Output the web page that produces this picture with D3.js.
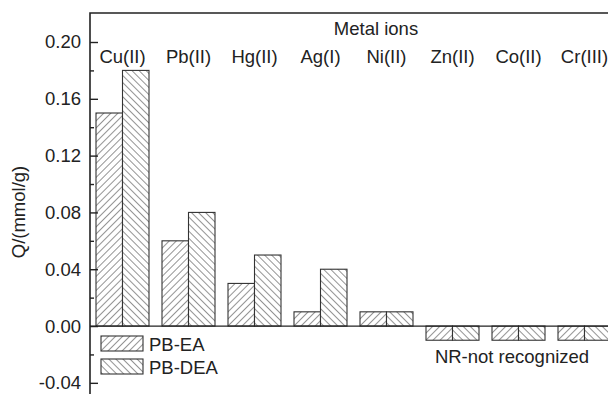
<!DOCTYPE html>
<html>
<head>
<meta charset="utf-8">
<script src="https://cdn.jsdelivr.net/npm/d3@7"></script>
<style>
  html, body { margin: 0; padding: 0; background: #fff; }
  svg { display: block; font-family: "Liberation Sans", Arial, sans-serif; }
</style>
</head>
<body>
<svg id="chart" width="608" height="394"></svg>
<script>
// Adsorption capacity per metal ion for the two sorbents
const categories = ["Cu(II)", "Pb(II)", "Hg(II)", "Ag(I)", "Ni(II)", "Zn(II)", "Co(II)", "Cr(III)"];
const series = ["PB-EA", "PB-DEA"];
const pbEA  = [0.15, 0.06, 0.03, 0.01, 0.01, -0.01, -0.01, -0.01];
const pbDEA = [0.18, 0.08, 0.05, 0.04, 0.01, -0.01, -0.01, -0.01];
const yTicks = [-0.04, 0.00, 0.04, 0.08, 0.12, 0.16, 0.20];
const yMinorTicks = [-0.02, 0.02, 0.06, 0.10, 0.14, 0.18];
const yTitle = "Q/(mmol/g)";
const xTitle = "Metal ions";
const note = "NR-not recognized";

const W = 608, H = 394;
const axisX = 90, frameTop = 13;
const ink = "#222";

const svg = d3.select("#chart");

// hatch patterns: forward slashes for PB-EA, back slashes for PB-DEA
const defs = svg.append("defs");
function hatch(id, dir) {
  const p = defs.append("pattern")
    .attr("id", id).attr("patternUnits", "userSpaceOnUse")
    .attr("width", 5).attr("height", 5)
    .attr("patternTransform", `rotate(${dir * 45})`);
  p.append("rect").attr("width", 5).attr("height", 5).attr("fill", "#fff");
  p.append("line").attr("x1", 0).attr("y1", 0).attr("x2", 0).attr("y2", 5)
    .attr("stroke", "#3a3a3a").attr("stroke-width", 1.1);
}
hatch("hatchEA", 1);
hatch("hatchDEA", -1);
const fills = { "PB-EA": "url(#hatchEA)", "PB-DEA": "url(#hatchDEA)" };

const y = d3.scaleLinear().domain([-0.048, 0.22]).range([394.2, 13.6]);

const x = d3.scaleBand().domain(categories).range([96, 611])
  .paddingInner(13 / 66).paddingOuter(0);
const xs = d3.scaleBand().domain(series).range([0, x.bandwidth()]).padding(0);

const rows = categories.map((c, i) => ({ cat: c, "PB-EA": pbEA[i], "PB-DEA": pbDEA[i] }));

// bars
const groups = svg.append("g").selectAll("g").data(rows).join("g")
  .attr("transform", d => `translate(${x(d.cat)},0)`);
groups.selectAll("rect")
  .data(d => series.map(s => ({ s, v: d[s] })))
  .join("rect")
  .attr("x", d => xs(d.s))
  .attr("width", xs.bandwidth())
  .attr("y", d => y(Math.max(0, d.v)))
  .attr("height", d => Math.abs(y(d.v) - y(0)))
  .attr("fill", d => fills[d.s])
  .attr("stroke", "#333").attr("stroke-width", 1.1);

// zero line
svg.append("line").attr("x1", axisX).attr("x2", W)
  .attr("y1", y(0)).attr("y2", y(0))
  .attr("stroke", ink).attr("stroke-width", 1.3);

// frame top and left axis
svg.append("path")
  .attr("d", `M${axisX},${H} V${frameTop} H${W}`)
  .attr("fill", "none").attr("stroke", ink).attr("stroke-width", 1.6);

// y axis ticks pointing inward
const yAxis = d3.axisRight(y).tickValues(yTicks).tickSize(8).tickFormat("");
const gy = svg.append("g").attr("transform", `translate(${axisX},0)`).call(yAxis);
gy.select(".domain").remove();
gy.selectAll("line").attr("stroke", ink).attr("stroke-width", 1.4);
const gyMinor = svg.append("g").attr("transform", `translate(${axisX},0)`)
  .call(d3.axisRight(y).tickValues(yMinorTicks).tickSize(4).tickFormat(""));
gyMinor.select(".domain").remove();
gyMinor.selectAll("line").attr("stroke", ink).attr("stroke-width", 1.4);

// tick labels on the outside, plain hyphen for negatives
const fmt = d => d3.format(".2f")(d).replace("\u2212", "-");
svg.append("g").selectAll("text").data(yTicks).join("text")
  .attr("x", 81).attr("y", d => y(d))
  .attr("dy", "0.35em").attr("text-anchor", "end")
  .attr("font-size", 18.5).attr("fill", ink)
  .text(fmt);

// y title
svg.append("text")
  .attr("transform", `translate(25,212) rotate(-90)`)
  .attr("text-anchor", "middle").attr("font-size", 18.5).attr("fill", ink)
  .text(yTitle);

// category labels and title along the top
svg.append("g").selectAll("text").data(categories).join("text")
  .attr("x", d => x(d) + x.bandwidth() / 2).attr("y", 63)
  .attr("text-anchor", "middle").attr("font-size", 18.5).attr("fill", ink)
  .text(d => d);
svg.append("text").attr("x", 376).attr("y", 35)
  .attr("text-anchor", "middle").attr("font-size", 18.5).attr("fill", ink)
  .text(xTitle);

// legend
const leg = svg.append("g").selectAll("g").data(series).join("g")
  .attr("transform", (d, i) => `translate(101,${336 + i * 23})`);
leg.append("rect").attr("width", 42).attr("height", 15)
  .attr("fill", d => fills[d]).attr("stroke", "#333").attr("stroke-width", 1.1);
leg.append("text").attr("x", 48).attr("y", 14.5)
  .attr("font-size", 18.5).attr("fill", ink).text(d => d);

// note under the unrecognised ions
svg.append("text").attr("x", 512).attr("y", 363)
  .attr("text-anchor", "middle").attr("font-size", 18.5).attr("fill", ink)
  .text(note);
</script>
</body>
</html>
